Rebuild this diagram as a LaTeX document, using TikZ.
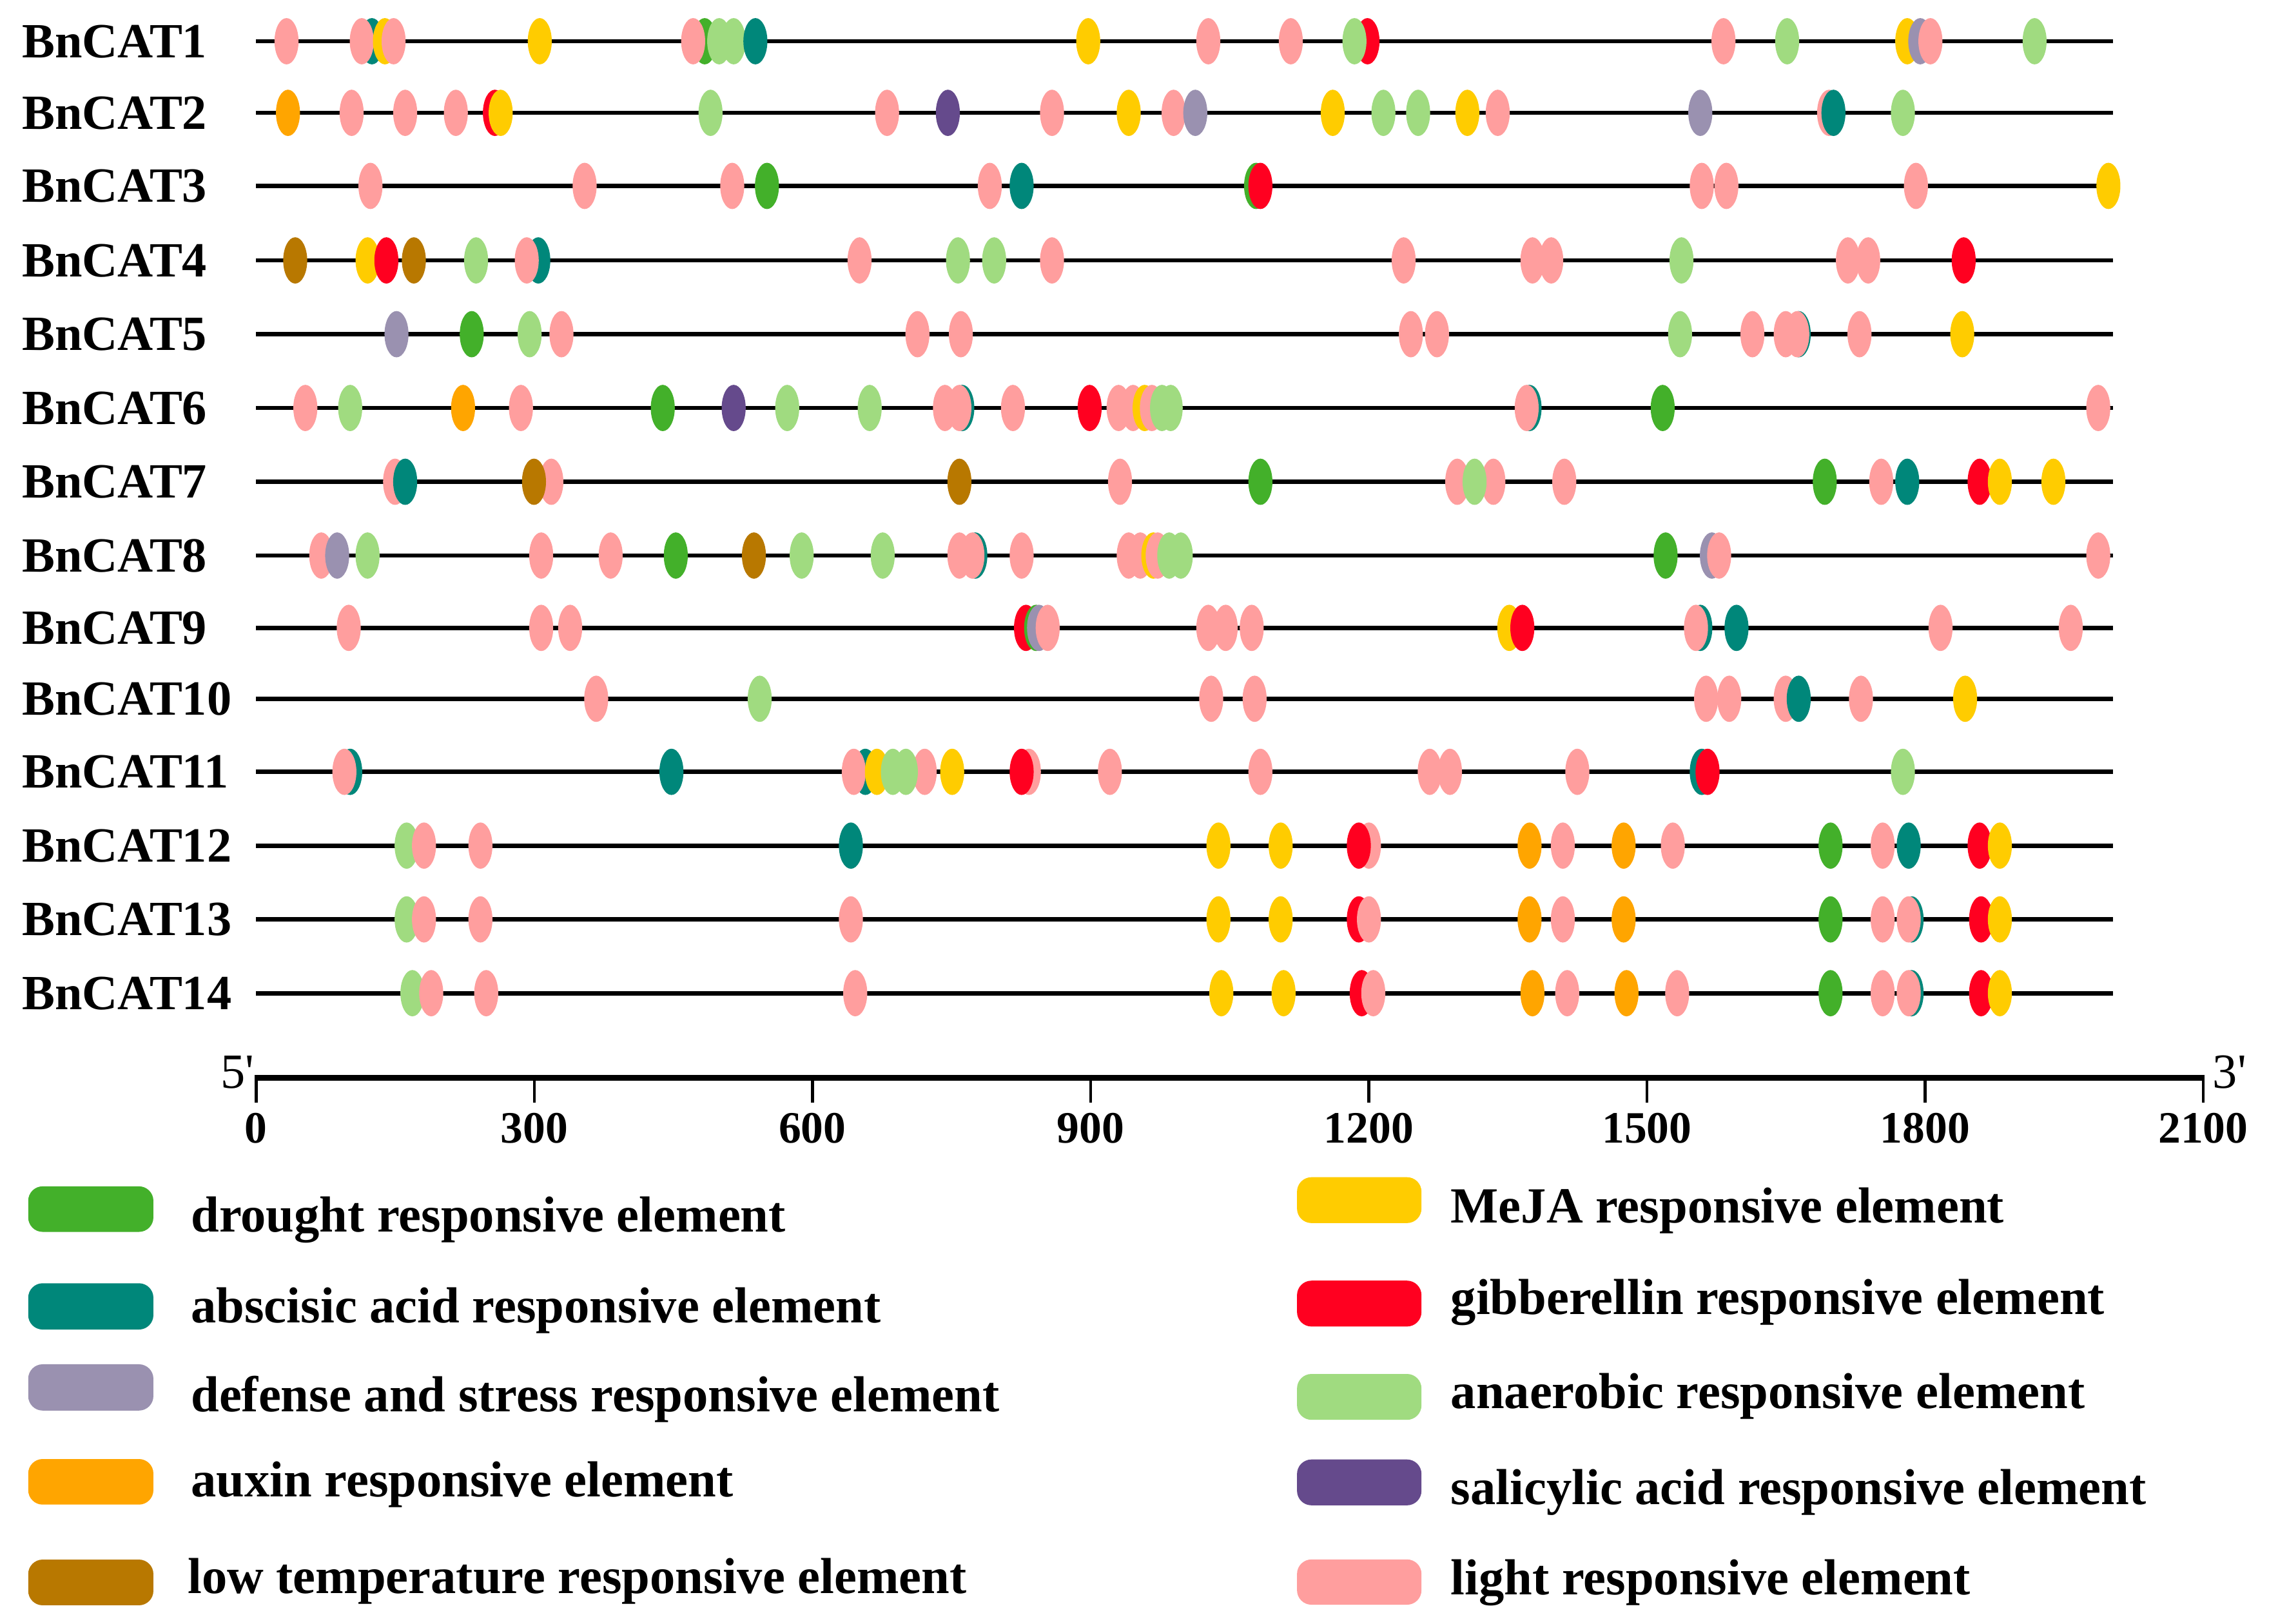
\documentclass[tikz,border=0pt]{standalone}
\usepackage{fontspec}
\setmainfont{Liberation Serif}
\newfontfamily\primefont{Liberation Serif}
\definecolor{dr}{RGB}{67,176,42}
\definecolor{ab}{RGB}{0,135,122}
\definecolor{de}{RGB}{154,145,176}
\definecolor{au}{RGB}{255,165,0}
\definecolor{lt}{RGB}{184,120,0}
\definecolor{mj}{RGB}{255,204,0}
\definecolor{gb}{RGB}{255,0,32}
\definecolor{an}{RGB}{160,219,128}
\definecolor{sa}{RGB}{101,74,140}
\definecolor{li}{RGB}{255,158,158}
\tikzset{
  genelab/.style={anchor=base west, inner sep=0pt, font=\fontsize{34}{40}\selectfont\bfseries},
  geneline/.style={line width=3pt, black},
  cis/.style={draw=none},
  axisline/.style={line width=4pt, black},
  tickline/.style={line width=2pt, black},
  numlab/.style={anchor=base, inner sep=0pt, font=\fontsize{31}{36}\selectfont\bfseries},
  endlab/.style={inner sep=0pt, font=\primefont\fontsize{34}{40}\selectfont},
  legbox/.style={rounded corners=10pt, draw=none},
  legtext/.style={anchor=base west, inner sep=0pt, font=\fontsize{35}{40}\selectfont\bfseries}
}
\newcommand\generow[3]{%
  \node[genelab] (g#2) at (15,#1+11.2) {BnCAT#2};
  \coordinate (s#2) at (177,#1);
  \coordinate (e#2) at (1460,#1);
  \draw[geneline] (s#2) -- (e#2);
  \foreach \x/\s in {#3} {\fill[cis, fill=\s] (\x,#1) ellipse [x radius=8.3pt, y radius=16pt];}
}
\begin{document}
\begin{tikzpicture}[x=1pt,y=-1pt]
\useasboundingbox (0,0) rectangle (1568,1122.5);
\fill[white] (0,0) rectangle (1568,1122.5);

\generow{28.5}{1}{198/li, 257/ab, 250/li, 266/mj, 272/li, 373/mj, 487/dr, 479/li, 497/an, 507/an, 522/ab, 752/mj, 835/li, 892/li, 945/gb, 936/an, 1191/li, 1235/an, 1318/mj, 1327/de, 1334/li, 1406/an}
\generow{78}{2}{199/au, 243/li, 280/li, 315/li, 342/gb, 346/mj, 491/an, 613/li, 655/sa, 727/li, 780/mj, 811/li, 826/de, 921/mj, 956/an, 980/an, 1014/mj, 1035/li, 1175/de, 1264/li, 1267/ab, 1315/an}
\generow{128.5}{3}{256/li, 404/li, 506/li, 530/dr, 684/li, 706/ab, 868/dr, 871/gb, 1176/li, 1193/li, 1324/li, 1457/mj}
\generow{180}{4}{204/lt, 254/mj, 267/gb, 286/lt, 329/an, 372/ab, 364/li, 594/li, 662/an, 687/an, 727/li, 970/li, 1059/li, 1072/li, 1162/an, 1277/li, 1291/li, 1357/gb}
\generow{231}{5}{274/de, 326/dr, 366/an, 388/li, 634/li, 664/li, 975/li, 993/li, 1161/an, 1211/li, 1243/ab, 1234/li, 1242/li, 1285/li, 1356/mj}
\generow{282}{6}{211/li, 242/an, 320/au, 360/li, 458/dr, 507/sa, 544/an, 601/an, 665/ab, 653/li, 663/li, 700/li, 753/gb, 773/li, 783/li, 791/mj, 796/li, 803/an, 809/an, 1057/ab, 1055/li, 1149/dr, 1450/li}
\generow{333}{7}{273/li, 280/ab, 381/li, 369/lt, 663/lt, 774/li, 871/dr, 1007/li, 1032/li, 1019/an, 1081/li, 1261/dr, 1300/li, 1318/ab, 1368/gb, 1382/mj, 1419/mj}
\generow{384}{8}{222/li, 233/de, 254/an, 374/li, 422/li, 467/dr, 521/lt, 554/an, 610/an, 674/ab, 663/li, 672/li, 706/li, 780/li, 788/li, 797/mj, 800/li, 808/an, 816/an, 1151/dr, 1183/de, 1188/li, 1450/li}
\generow{434}{9}{241/li, 374/li, 394/li, 709/gb, 716/dr, 718/de, 724/li, 835/li, 847/li, 865/li, 1043/mj, 1052/gb, 1175/ab, 1172/li, 1200/ab, 1341/li, 1431/li}
\generow{483}{10}{412/li, 525/an, 837/li, 867/li, 1179/li, 1195/li, 1234/li, 1243/ab, 1286/li, 1358/mj}
\generow{533.5}{11}{242/ab, 238/li, 464/ab, 598/ab, 590/li, 606/mj, 639/li, 617/an, 626/an, 658/mj, 711/li, 706/gb, 767/li, 871/li, 988/li, 1002/li, 1090/li, 1176/ab, 1180/gb, 1315/an}
\generow{584.5}{12}{281/an, 293/li, 332/li, 588/ab, 842/mj, 885/mj, 946/li, 939/gb, 1057/au, 1080/li, 1122/au, 1156/li, 1265/dr, 1301/li, 1319/ab, 1368/gb, 1382/mj}
\generow{635.5}{13}{281/an, 293/li, 332/li, 588/li, 842/mj, 885/mj, 939/gb, 946/li, 1057/au, 1080/li, 1122/au, 1265/dr, 1301/li, 1321/ab, 1319/li, 1369/gb, 1382/mj}
\generow{686.5}{14}{285/an, 298/li, 336/li, 591/li, 844/mj, 887/mj, 941/gb, 949/li, 1059/au, 1083/li, 1124/au, 1159/li, 1265/dr, 1301/li, 1321/ab, 1319/li, 1369/gb, 1382/mj}

% scale axis
\coordinate (a0) at (177,745);
\coordinate (a1) at (1522.5,745);
\draw[axisline] (a0) -- (a1);
\foreach \v in {0,300,...,2100} {
  \coordinate (tk\v) at ({177+\v*0.6407},743);
  \draw[tickline] (tk\v) -- ++(0,19);
  \node[numlab] (n\v) at ({177+\v*0.6407},790) {\v};
}
\node[endlab, anchor=base east] (five) at (176,752) {5'};
\node[endlab, anchor=base west] (three) at (1529,752) {3'};

% legend left
\fill[legbox, fill=dr] (19.5,820) rectangle (106,851.5);
\node[legtext] (ldr) at (131.8,851.5) {drought responsive element};
\fill[legbox, fill=ab] (19.5,887) rectangle (106,919);
\node[legtext] (lab) at (131.8,914.3) {abscisic acid responsive element};
\fill[legbox, fill=de] (19.5,943) rectangle (106,975);
\node[legtext] (lde) at (131.8,975.6) {defense and stress responsive element};
\fill[legbox, fill=au] (19.5,1008.5) rectangle (106,1040);
\node[legtext] (lau) at (131.8,1034.5) {auxin responsive element};
\fill[legbox, fill=lt] (19.5,1078) rectangle (106,1109.6);
\node[legtext] (llt) at (129.5,1101.4) {low temperature responsive element};

% legend right
\fill[legbox, fill=mj] (896.3,813.7) rectangle (982.3,845.4);
\node[legtext] (lmj) at (1002.4,845.4) {MeJA responsive element};
\fill[legbox, fill=gb] (896.3,885.2) rectangle (982.3,916.9);
\node[legtext] (lgb) at (1002.4,908.5) {gibberellin responsive element};
\fill[legbox, fill=an] (896.3,949.7) rectangle (982.3,981.4);
\node[legtext] (lan) at (1002.4,973.6) {anaerobic responsive element};
\fill[legbox, fill=sa] (896.3,1008.8) rectangle (982.3,1040.5);
\node[legtext] (lsa) at (1002.4,1040) {salicylic acid responsive element};
\fill[legbox, fill=li] (896.3,1077.9) rectangle (982.3,1109.2);
\node[legtext] (lli) at (1002.4,1102.4) {light responsive element};
\end{tikzpicture}
\end{document}
